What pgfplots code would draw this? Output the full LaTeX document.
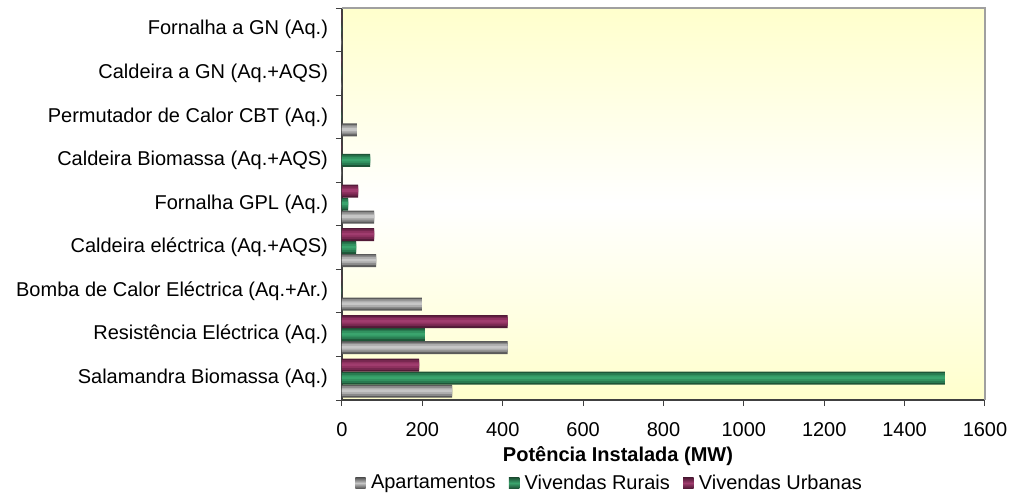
\documentclass[border=0pt]{standalone}
\usepackage{pgfplots}
\pgfplotsset{compat=1.18}
\usepackage{fontspec}
\setmainfont{Liberation Sans}

\definecolor{bgyellow}{HTML}{FFFFCC}
\definecolor{frame}{HTML}{A0A0A0}
% cylinder-like bar shades: dark edge, mid, light, highlight
\definecolor{grayD}{HTML}{5A5A5A}\definecolor{grayM}{HTML}{8A8A8A}
\definecolor{grayL}{HTML}{ADADAD}\definecolor{grayH}{HTML}{C6C6C6}
\definecolor{greenD}{HTML}{1E5537}\definecolor{greenM}{HTML}{287A50}
\definecolor{greenL}{HTML}{31915F}\definecolor{greenH}{HTML}{3AA46D}
\definecolor{plumD}{HTML}{521A37}\definecolor{plumM}{HTML}{76274F}
\definecolor{plumL}{HTML}{8E315F}\definecolor{plumH}{HTML}{A03C6E}

% installed power per heating system (MW), categories from bottom (0) to top (8)
\pgfplotstableread{
y apart rurais urbanas
0 274 1500 192
1 412 206 412
2 199 0 0
3 85 35 80
4 80 15 40
5 0 70 0
6 37 0 0
7 0 0 0
8 0 0 0
}\potencia

\begin{document}
\begin{tikzpicture}
\useasboundingbox (-256.5pt,-72.75pt) rectangle (501.75pt,300pt);
\begin{axis}[
  xbar,
  scale only axis,
  width=482.25pt, height=294pt,
  at={(0,0)}, anchor=south west,
  xmin=0, xmax=1600,
  ymin=-0.5, ymax=8.5,
  xtick={0,200,...,1600},
  ytick={0,...,8},
  yticklabels={Salamandra Biomassa (Aq.),
               Resistência Eléctrica (Aq.),
               Bomba de Calor Eléctrica (Aq.+Ar.),
               Caldeira eléctrica (Aq.+AQS),
               Fornalha GPL (Aq.),
               Caldeira Biomassa (Aq.+AQS),
               Permutador de Calor CBT (Aq.),
               Caldeira a GN (Aq.+AQS),
               Fornalha a GN (Aq.)},
  minor ytick={-0.5,0.5,...,8.5},
  major y tick style={draw=none},
  minor y tick style={draw=black!75, line width=0.75pt},
  major x tick style={draw=black!75, line width=0.75pt},
  tick align=outside,
  major tick length=4.5pt,
  minor tick length=4.5pt,
  axis x line*=bottom,
  axis y line*=left,
  axis line style={draw=black!75, line width=1.1pt, -},
  /pgf/number format/assume math mode=true,
  /pgf/number format/1000 sep={},
  tick label style={font=\fontsize{15}{18}\selectfont},
  xticklabel style={yshift=-9pt},
  yticklabel style={xshift=-2.5pt},
  xlabel={\textbf{Potência Instalada (MW)}},
  xlabel style={at={(axis description cs:0,0)}, anchor=center,
    xshift=207pt, yshift=-42pt, font=\fontsize{15}{18}\selectfont},
  axis background/.style={shade, top color=bgyellow, bottom color=bgyellow, middle color=white},
  legend style={at={(axis description cs:0,0)}, anchor=center,
    xshift=201pt, yshift=-62.25pt,
    draw=none, fill=none, font=\fontsize{15}{18}\selectfont,
    inner sep=0pt,
    legend columns=3,
    /tikz/every odd column/.append style={column sep=2pt},
    /tikz/every even column/.append style={column sep=8pt}},
  clip=false,
]
% Apartamentos
\addplot[draw=none, fill=grayD, bar width=9.75pt, bar shift=-9.75pt,
  legend image code/.code={\path[top color=grayD, bottom color=grayD, middle color=grayH] (0pt,-3.9pt) rectangle (7.8pt,3.9pt);}]
  table[x=apart, y=y] {\potencia};
\addlegendentry{Apartamentos}
\addplot[forget plot, draw=none, fill=grayM, bar width=7.2pt, bar shift=-9.55pt] table[x=apart, y=y] {\potencia};
\addplot[forget plot, draw=none, fill=grayL, bar width=4.6pt, bar shift=-9.45pt] table[x=apart, y=y] {\potencia};
\addplot[forget plot, draw=none, fill=grayH, bar width=2.0pt, bar shift=-9.4pt] table[x=apart, y=y] {\potencia};
% Vivendas Rurais
\addplot[draw=none, fill=greenD, bar width=9.75pt, bar shift=0pt,
  legend image code/.code={\path[top color=greenD, bottom color=greenD, middle color=greenH] (0pt,-3.9pt) rectangle (7.8pt,3.9pt);}]
  table[x=rurais, y=y] {\potencia};
\addlegendentry{Vivendas Rurais}
\addplot[forget plot, draw=none, fill=greenM, bar width=7.2pt, bar shift=0.2pt] table[x=rurais, y=y] {\potencia};
\addplot[forget plot, draw=none, fill=greenL, bar width=4.6pt, bar shift=0.3pt] table[x=rurais, y=y] {\potencia};
\addplot[forget plot, draw=none, fill=greenH, bar width=2.0pt, bar shift=0.35pt] table[x=rurais, y=y] {\potencia};
% Vivendas Urbanas
\addplot[draw=none, fill=plumD, bar width=9.75pt, bar shift=9.75pt,
  legend image code/.code={\path[top color=plumD, bottom color=plumD, middle color=plumH] (0pt,-3.9pt) rectangle (7.8pt,3.9pt);}]
  table[x=urbanas, y=y] {\potencia};
\addlegendentry{Vivendas Urbanas}
\addplot[forget plot, draw=none, fill=plumM, bar width=7.2pt, bar shift=9.95pt] table[x=urbanas, y=y] {\potencia};
\addplot[forget plot, draw=none, fill=plumL, bar width=4.6pt, bar shift=10.05pt] table[x=urbanas, y=y] {\potencia};
\addplot[forget plot, draw=none, fill=plumH, bar width=2.0pt, bar shift=10.1pt] table[x=urbanas, y=y] {\potencia};
\draw[frame, line width=1.1pt] (rel axis cs:0,1) -- (rel axis cs:1,1) -- (rel axis cs:1,0);
\end{axis}
\end{tikzpicture}
\end{document}
